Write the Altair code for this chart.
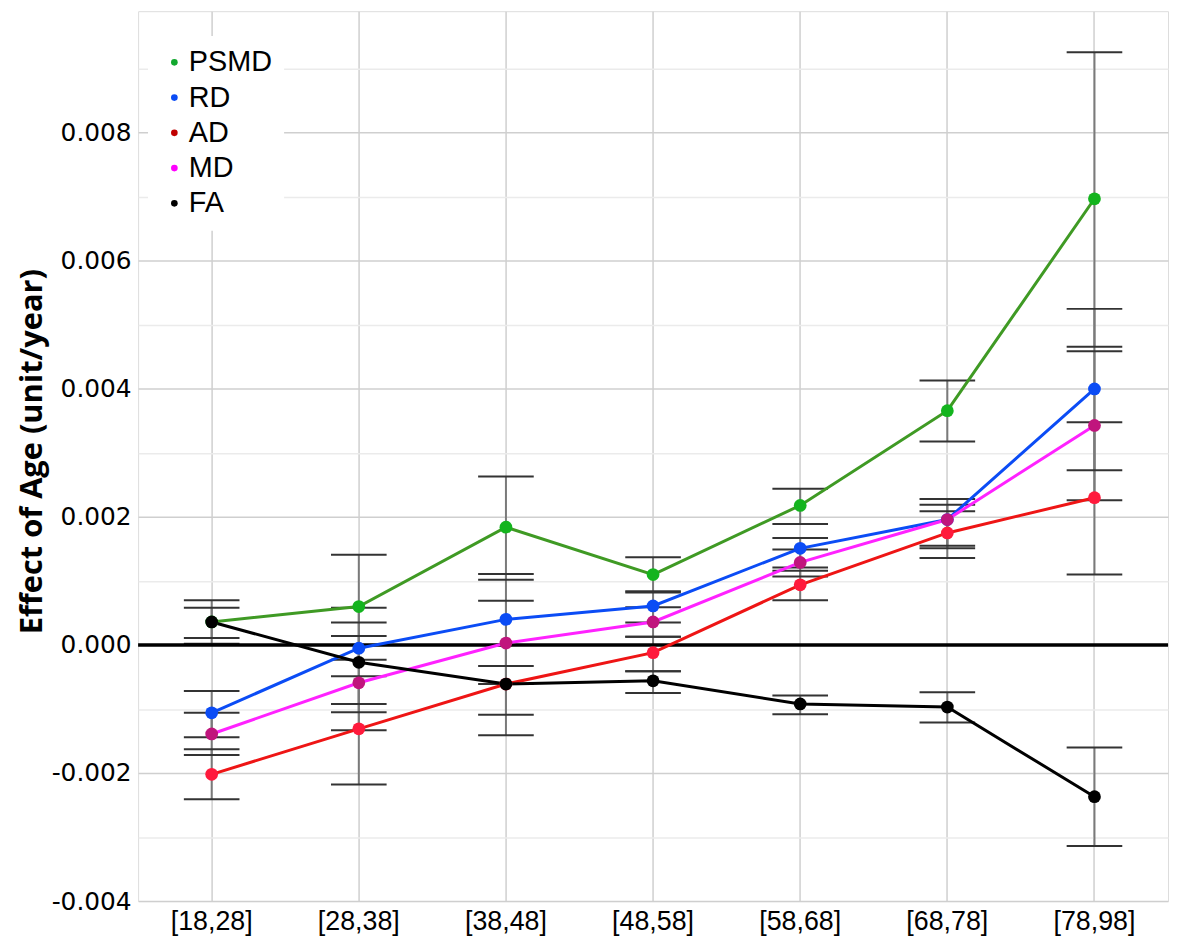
import altair as alt
import pandas as pd

categories = ["[18,28]", "[28,38]", "[38,48]", "[48,58]", "[58,68]", "[68,78]", "[78,98]"]
series_order = ["PSMD", "RD", "AD", "MD", "FA"]

values = {
    "PSMD": [0.00036, 0.00060, 0.00184, 0.00110, 0.00218, 0.00366, 0.00697],
    "RD":   [-0.00106, -0.00005, 0.00040, 0.00061, 0.00151, 0.00196, 0.00400],
    "AD":   [-0.00202, -0.00131, -0.00061, -0.00012, 0.00094, 0.00175, 0.00230],
    "MD":   [-0.00139, -0.00059, 0.00003, 0.00036, 0.00129, 0.00196, 0.00343],
    "FA":   [0.00036, -0.00027, -0.00061, -0.00056, -0.00092, -0.00097, -0.00237],
}
upper = {
    "PSMD": [0.00058, 0.00141, 0.00263, 0.00137, 0.00244, 0.00413, 0.00926],
    "RD":   [-0.00072, 0.00058, 0.00111, 0.00082, 0.00167, 0.00228, 0.00525],
    "AD":   [-0.00163, -0.00049, 0.00000, 0.00013, 0.00116, 0.00209, 0.00348],
    "MD":   [-0.00106, 0.00014, 0.00069, 0.00059, 0.00149, 0.00219, 0.00459],
    "FA":   [0.00070, 0.00035, 0.00000, -0.00041, -0.00079, -0.00074, -0.00160],
}
lower = {
    "PSMD": [0.00011, -0.00023, 0.00102, 0.00084, 0.00189, 0.00318, 0.00466],
    "RD":   [-0.00144, -0.00105, -0.00033, 0.00035, 0.00121, 0.00151, 0.00273],
    "AD":   [-0.00241, -0.00218, -0.00141, -0.00041, 0.00070, 0.00136, 0.00110],
    "MD":   [-0.00172, -0.00133, -0.00061, 0.00013, 0.00107, 0.00155, 0.00226],
    "FA":   [0.00002, -0.00092, -0.00109, -0.00075, -0.00108, -0.00121, -0.00314],
}

legend_colors = ["#12a82e", "#0b4cf5", "#c00000", "#ff00ff", "#000000"]
line_colors = {"PSMD": "#3f9a24", "RD": "#0b4cf5", "AD": "#ee1515", "MD": "#ff22ff", "FA": "#000000"}
marker_colors = {"PSMD": "#14b41e", "RD": "#0b4cf5", "AD": "#ff1a3c", "MD": "#c0157d", "FA": "#000000"}

y_grid_values = [-0.004, -0.0035, -0.003, -0.0025, -0.002, -0.0015, -0.001, -0.0005,
                 0.0, 0.0005, 0.001, 0.0015, 0.002, 0.0025, 0.003, 0.0035, 0.004,
                 0.0045, 0.005, 0.0055, 0.006, 0.0065, 0.007, 0.0075, 0.008, 0.0085,
                 0.009, 0.0095]
zero_line = [0.0]

rows = []
for s in series_order:
    for i, c in enumerate(categories):
        rows.append({
            "series": s, "age": c, "value": values[s][i],
            "lo": lower[s][i], "hi": upper[s][i],
            "lineColor": line_colors[s], "markColor": marker_colors[s],
        })
df = pd.DataFrame(rows)
zero_df = pd.DataFrame({"y": zero_line})

major_test = "abs(datum.value * 500 - round(datum.value * 500)) < 0.001"
label_expr = (major_test + " ? (datum.value < 0 ? '-' + format(-datum.value, '.3f') : "
              "format(datum.value, '.3f')) : ''")

x_enc = alt.X("age:N", sort=categories,
              scale=alt.Scale(paddingInner=0, paddingOuter=0),
              axis=alt.Axis(title=None, labelAngle=0, labelFontSize=27,
                            labelFont="Liberation Sans", labelColor="#000000",
                            labelPadding=8, ticks=False, domain=False,
                            grid=True, gridColor="#cfcfcf", gridWidth=1.5))

y_scale = alt.Scale(domain=[-0.004, 0.0099], nice=False, zero=False)
y_axis = alt.Axis(title="Effect of Age (unit/year)", values=y_grid_values,
                  labelExpr=label_expr, labelOverlap=False,
                  labelFontSize=25, labelFont="DejaVu Sans", labelColor="#000000",
                  labelPadding=7, ticks=False, domain=False, grid=True,
                  gridColor={"condition": {"test": major_test, "value": "#cfcfcf"},
                             "value": "#ebebeb"},
                  gridWidth=1.5,
                  titleFont="Open Sans", titleFontSize=31, titleFontWeight="bold",
                  titleColor="#000000", titleX=-106, titleY=443,
                  titleBaseline="middle", titleAlign="center")

base = alt.Chart(df)

err_rule = base.mark_rule(color="#7a7a7a", strokeWidth=2).encode(
    x=x_enc,
    y=alt.Y("lo:Q", scale=y_scale, axis=y_axis),
    y2="hi:Q",
)
cap_lo = base.mark_tick(color="#333333", thickness=2, size=56, opacity=1).encode(
    x=x_enc, y=alt.Y("lo:Q", scale=y_scale))
cap_hi = base.mark_tick(color="#333333", thickness=2, size=56, opacity=1).encode(
    x=x_enc, y=alt.Y("hi:Q", scale=y_scale))

zero = alt.Chart(zero_df).mark_rule(color="#000000", strokeWidth=3.5).encode(
    y=alt.Y("y:Q", scale=y_scale))

lines = base.mark_line(strokeWidth=3).encode(
    x=x_enc,
    y=alt.Y("value:Q", scale=y_scale),
    stroke=alt.Stroke("lineColor:N", scale=None),
    detail="series:N",
)

legend_pts = base.mark_circle(size=20, opacity=1).encode(
    x=x_enc,
    y=alt.Y("value:Q", scale=y_scale),
    color=alt.Color("series:N",
                    scale=alt.Scale(domain=series_order, range=legend_colors),
                    legend=alt.Legend(title=None, orient="none", legendX=10, legendY=25,
                                      fillColor="#ffffff", padding=12,
                                      labelFontSize=29, labelFont="Liberation Sans",
                                      labelColor="#000000",
                                      symbolType="circle", symbolSize=45,
                                      symbolStrokeWidth=0, rowPadding=5.5,
                                      labelOffset=0)),
)

points = base.mark_circle(size=165, opacity=1).encode(
    x=x_enc,
    y=alt.Y("value:Q", scale=y_scale),
    fill=alt.Fill("markColor:N", scale=None),
)

chart = alt.layer(err_rule, cap_lo, cap_hi, zero, lines, legend_pts, points).properties(
    width=1037, height=896,
    autosize=alt.AutoSizeParams(type="none"),
    padding={"left": 131, "top": 0, "right": 5, "bottom": 38},
).configure_view(stroke="#a6a6a6", strokeWidth=1.5).configure(background="#ffffff")

chart.save("out.html", embed_options={"renderer": "svg", "actions": False})
